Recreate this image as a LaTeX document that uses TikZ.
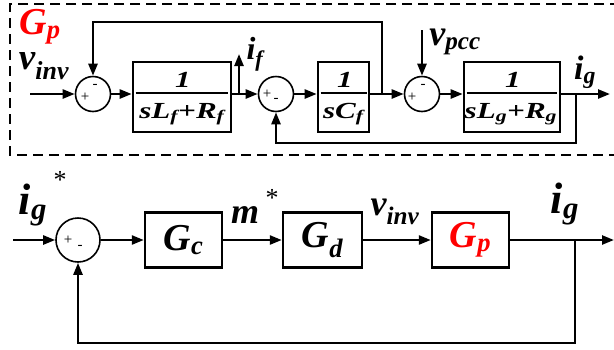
\documentclass[tikz,border=0pt]{standalone}
\usepackage{graphicx}
\usepackage{fontspec}
\setmainfont{Liberation Serif}
\usepackage{tikz}
\usetikzlibrary{arrows.meta}

\newcommand{\sx}[1]{\scalebox{1.35}[1]{#1}}
\newcommand{\pl}{\textup{+}}
\newcommand{\fsz}[1]{\fontsize{#1}{#1}\selectfont}

\tikzset{
  blk/.style={draw, line width=2.6pt, minimum height=70pt, inner sep=0pt},
  frc/.style={anchor=base, inner sep=0pt, font=\fsz{23}\bfseries\itshape},
  rul/.style={line width=1.8pt},
  blkb/.style={draw, line width=2.4pt, minimum height=55pt, minimum width=77pt, font=\fsz{38}\bfseries\itshape},
  sumc/.style={draw, circle, line width=1.6pt, minimum size=35pt, inner sep=0pt},
  sgn/.style={inner sep=0pt, font=\fsz{15}},
  wire/.style={line width=2.4pt, -{Triangle[length=12pt, width=9pt]}},
  lbl/.style={inner sep=0pt, font=\bfseries\itshape},
}

\begin{document}
\begin{tikzpicture}[x=1pt, y=-1pt]
  \useasboundingbox (0,0) rectangle (614,349);

  % plant G_p
  \draw[line width=1.8pt, dash pattern=on 10pt off 6pt] (620,4) -- (10,4) -- (10,155) -- (620,155);
  \node[lbl, text=red, font=\fsz{38}\bfseries\itshape] (gp) at (40,27) {G\textsubscript{p}};

  \node[sumc] (c1) at (93,94) {};
  \node[sumc] (c2) at (276,94) {};
  \node[sumc] (c3) at (422,94) {};
  \node[blk, minimum width=98pt] (bf) at (182,97) {};
  \node[blk, minimum width=51pt] (bc) at (343.5,97) {};
  \node[blk, minimum width=96pt] (bg) at (512,97) {};

  \node[frc] (bfn) at (183,87) {\sx{1}};
  \node[frc] (bfd) at (182,118) {\sx{sL\textsubscript{f}\pl R\textsubscript{f}}};
  \draw[rul] ([shift={(4,-4)}]bf.west) -- ([shift={(-4,-4)}]bf.east);
  \node[frc] (bcn) at (345,87) {\sx{1}};
  \node[frc] (bcd) at (343.5,118) {\sx{sC\textsubscript{f}}};
  \draw[rul] ([shift={(4,-4)}]bc.west) -- ([shift={(-3,-4)}]bc.east);
  \node[frc] (bgn) at (513,87) {\sx{1}};
  \node[frc] (bgd) at (511,118) {\sx{sL\textsubscript{g}\pl R\textsubscript{g}}};
  \draw[rul] ([shift={(4,-4)}]bg.west) -- ([shift={(-4,-4)}]bg.east);

  \node[sgn] at ([shift={(-8,3)}]c1) {+};
  \node[sgn] at ([shift={(2,-8)}]c1) {-};
  \node[sgn] at ([shift={(-9,0)}]c2) {+};
  \node[sgn] at ([shift={(0,6)}]c2) {-};
  \node[sgn] at ([shift={(-10,3)}]c3) {+};
  \node[sgn] at ([shift={(1,-8)}]c3) {-};

  \coordinate (vi) at (30,94);
  \coordinate (jf) at (239,94);
  \coordinate (ifo) at (239,54);
  \coordinate (jv) at (382,94);
  \coordinate (tp) at (382,22);
  \coordinate (vp) at (422,30);
  \coordinate (jg) at (576,94);
  \coordinate (bt) at (576,143);
  \coordinate (igo) at (610,94);

  \draw[wire] (vi) -- (c1);
  \draw[wire] (c1) -- (c1 -| bf.west);
  \draw[wire] (bf.east |- c2) -- (c2);
  \draw[wire] (jf) -- (ifo);
  \draw[wire] (c2) -- (c2 -| bc.west);
  \draw[wire] (bc.east |- c3) -- (c3);
  \draw[wire] (jv) -- (tp) -| (c1);
  \draw[wire] (vp) -- (c3);
  \draw[wire] (c3) -- (c3 -| bg.west);
  \draw[wire] (bg.east |- jg) -- (igo);
  \draw[wire] (jg) -- (bt) -| (c2);

  \node[lbl, font=\fsz{37}\bfseries\itshape] (vinv) at (44,66) {v\textsubscript{inv}};
  \node[lbl, font=\fsz{32}\bfseries\itshape] (iflab) at (255,54) {i\textsubscript{f}};
  \node[lbl, font=\fsz{36}\bfseries\itshape] (vpcc) at (455,42) {v\textsubscript{pcc}};
  \node[lbl, font=\fsz{34}\bfseries\itshape] (igtop) at (585,72) {i\textsubscript{g}};

  % control loop
  \node[draw, circle, line width=1.6pt, minimum size=44pt, inner sep=0pt] (c4) at (78,240) {};
  \node[sgn] at ([shift={(-10,0)}]c4) {+};
  \node[sgn] at ([shift={(2,7)}]c4) {-};
  \node[blkb] (gc) at (183.5,240) {G\textsubscript{c}};
  \node[blkb, minimum width=79pt] (gd) at (322.5,240) {G\textsubscript{d}};
  \node[blkb, text=red] (gpb) at (470.5,240) {G\textsubscript{p}};

  \coordinate (ref) at (13,240);
  \coordinate (jo) at (575,240);
  \coordinate (bb) at (575,343);
  \coordinate (out) at (614,240);

  \draw[wire] (ref) -- (c4);
  \draw[wire] (c4) -- (gc);
  \draw[wire] (gc) -- (gd);
  \draw[wire] (gd) -- (gpb);
  \draw[wire] (gpb) -- (out);
  \draw[wire] (jo) -- (bb) -| (c4);

  \node[lbl, font=\fsz{44}\bfseries\itshape] (igref) at (33,205) {i\textsubscript{g}};
  \node[lbl, font=\fsz{26}] (st1) at (60,180) {*};
  \node[lbl, font=\fsz{36}\bfseries\itshape] (mlab) at (245,215) {m};
  \node[lbl, font=\fsz{26}] (st2) at (272,198) {*};
  \node[lbl, font=\fsz{36}\bfseries\itshape] (vinvb) at (395,212) {v\textsubscript{inv}};
  \node[lbl, font=\fsz{44}\bfseries\itshape] (igb) at (565,204) {i\textsubscript{g}};
\end{tikzpicture}
\end{document}
